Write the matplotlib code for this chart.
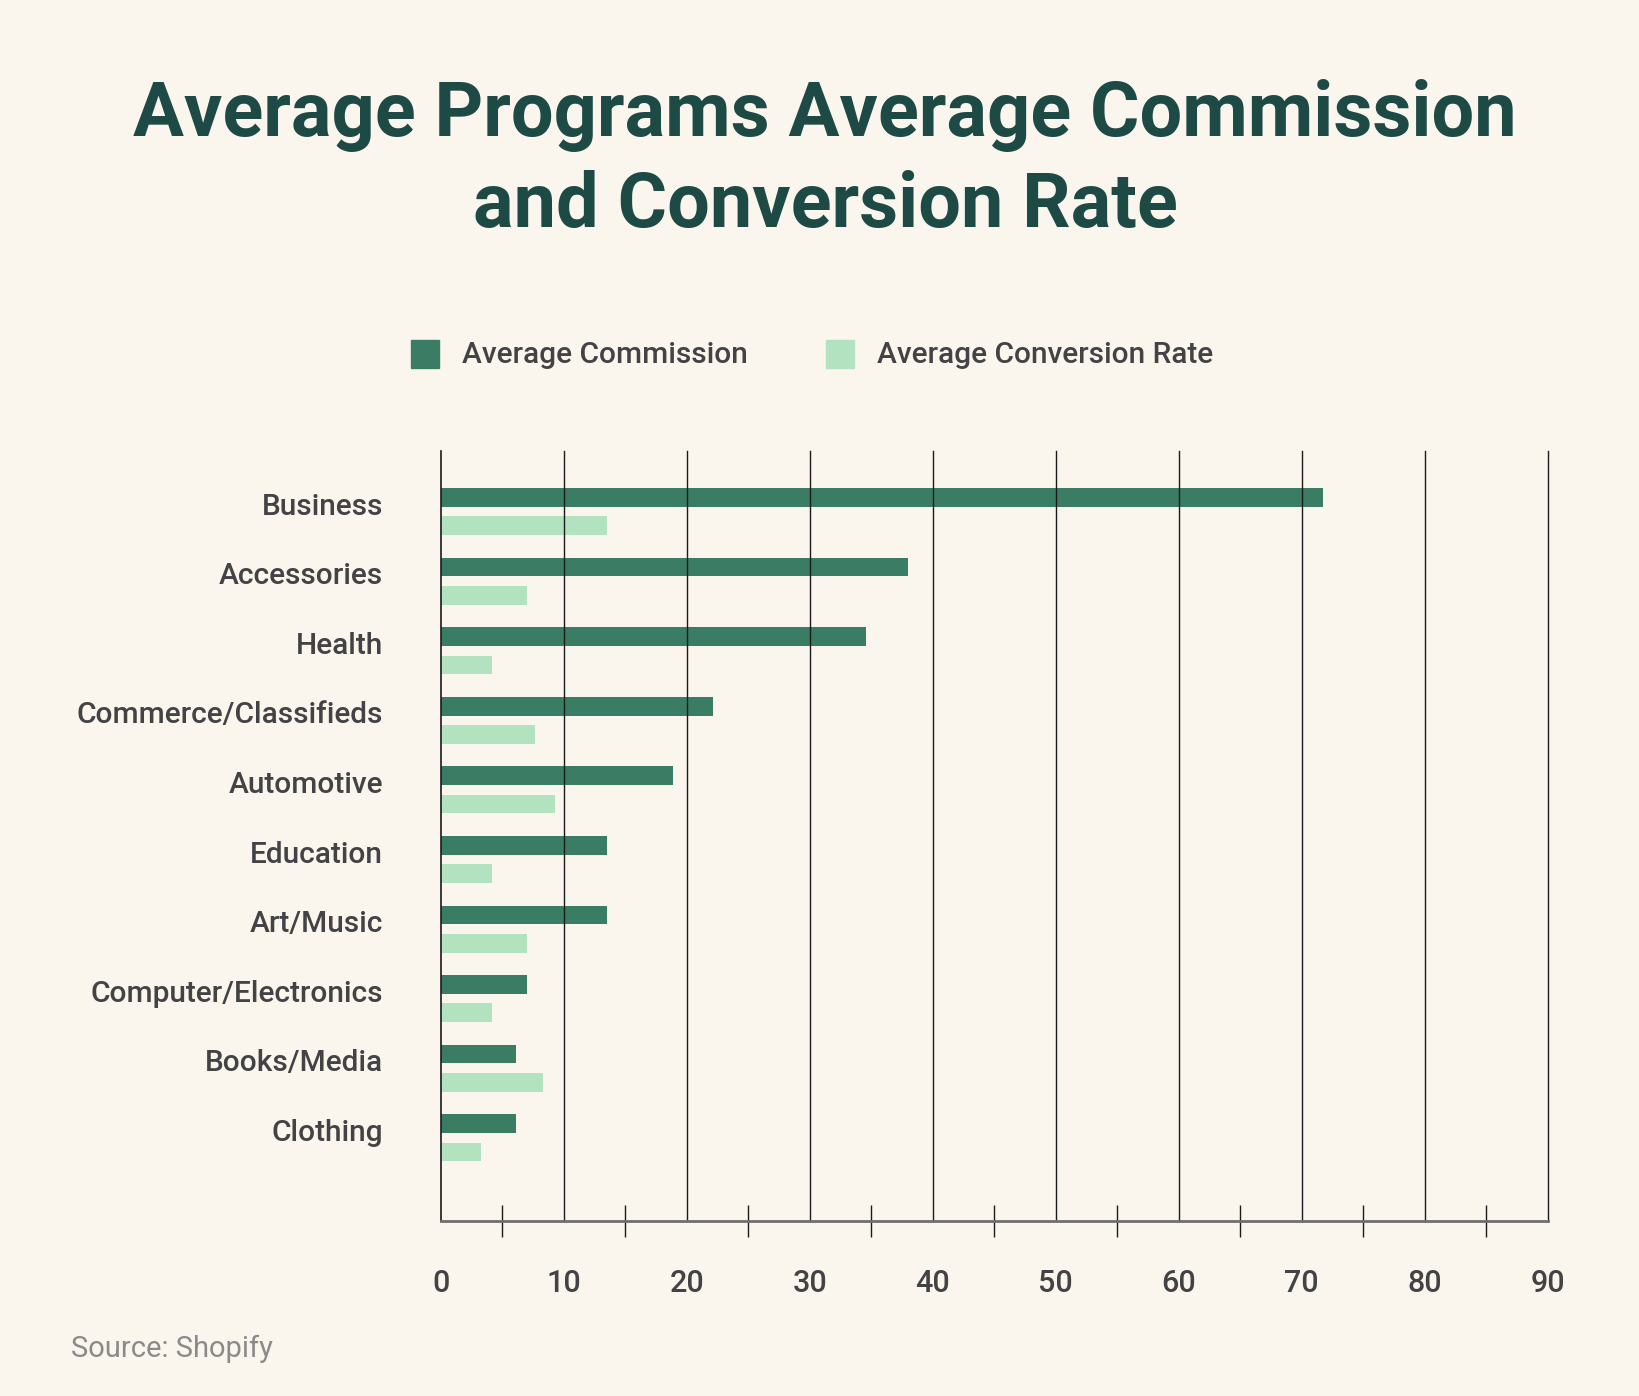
import matplotlib
matplotlib.use("Agg")
import matplotlib.pyplot as plt
import numpy as np
from matplotlib.patches import Rectangle

categories = ["Business", "Accessories", "Health", "Commerce/Classifieds", "Automotive",
              "Education", "Art/Music", "Computer/Electronics", "Books/Media", "Clothing"]
avg_commission = [71.7, 38.0, 34.6, 22.1, 18.9, 13.5, 13.5, 7.0, 6.1, 6.1]
avg_conversion = [13.5, 7.0, 4.2, 7.7, 9.3, 4.2, 7.0, 4.2, 8.3, 3.3]
series_names = ["Average Commission", "Average Conversion Rate"]
x_ticks = [0, 10, 20, 30, 40, 50, 60, 70, 80, 90]

BG = "#faf6ed"
DARK = "#3a7d64"
LIGHT = "#b3e2c0"
TITLE_C = "#1e4a45"
TEXT_C = "#434346"
FONT = "Roboto"

W, H = 1640, 1396
fig = plt.figure(figsize=(W / 100, H / 100), dpi=100, facecolor=BG)

ax_left, ax_right = 440.7, 1547.6
ax_top, ax_bottom = 451, 1220.7
ax = fig.add_axes([ax_left / W, 1 - ax_bottom / H, (ax_right - ax_left) / W, (ax_bottom - ax_top) / H])
ax.set_facecolor(BG)

y = np.arange(len(categories))
bh = 0.269
off = 0.2035
ax.barh(y - off, avg_commission, height=bh, color=DARK, zorder=1, label=series_names[0])
ax.barh(y + off, avg_conversion, height=bh, color=LIGHT, zorder=1, label=series_names[1])

ax.set_xlim(0, 90)
ax.set_ylim(9 + 1.19, -0.87)

for t in x_ticks[1:]:
    ax.axvline(t, color="#1a1a1a", lw=1.0, zorder=2, clip_on=False)

for s in ["top", "right"]:
    ax.spines[s].set_visible(False)
ax.spines["left"].set_color("#1a1a1a")
ax.spines["left"].set_linewidth(1.2)
ax.spines["bottom"].set_color("#6f6f6f")
ax.spines["bottom"].set_linewidth(2)

ax.set_xticks(x_ticks)
ax.set_xticklabels([str(t) for t in x_ticks], fontsize=22, color=TEXT_C,
                   fontfamily=FONT, fontweight="medium")
ax.tick_params(axis="x", length=0, pad=35)
ax.set_xticks([t + 5 for t in x_ticks[:-1]], minor=True)
ax.tick_params(axis="x", which="minor", direction="inout", length=23, width=1.0, color="#1a1a1a")

ax.set_yticks(y - 0.07)
ax.set_yticklabels(categories, fontsize=21.5, color=TEXT_C, fontfamily=FONT, fontweight="medium")
ax.tick_params(axis="y", length=0, pad=41.5)
for lbl in ax.get_yticklabels():
    lbl.set_verticalalignment("center")

# Title
fig.text(825 / W, 1 - 115 / H, "Average Programs Average Commission", ha="center", va="center",
         fontsize=54.5, fontweight="bold", color=TITLE_C, fontfamily=FONT)
fig.text(825 / W, 1 - 206 / H, "and Conversion Rate", ha="center", va="center",
         fontsize=54.5, fontweight="bold", color=TITLE_C, fontfamily=FONT)

# Legend
for (x0, name, col) in [(411, series_names[0], DARK), (826, series_names[1], LIGHT)]:
    fig.patches.append(Rectangle((x0 / W, 1 - 368 / H), 28 / W, 28 / H,
                                 transform=fig.transFigure, color=col, figure=fig))
    fig.text((x0 + 51) / W, 1 - 355 / H, name, ha="left", va="center", fontsize=21.5,
             color=TEXT_C, fontfamily=FONT, fontweight="medium")

fig.text(71 / W, 1 - 1349 / H, "Source: Shopify", ha="left", va="center", fontsize=21,
         color="#8a8a8a", fontfamily=FONT)

fig.savefig("out.png", dpi=100, facecolor=BG)
